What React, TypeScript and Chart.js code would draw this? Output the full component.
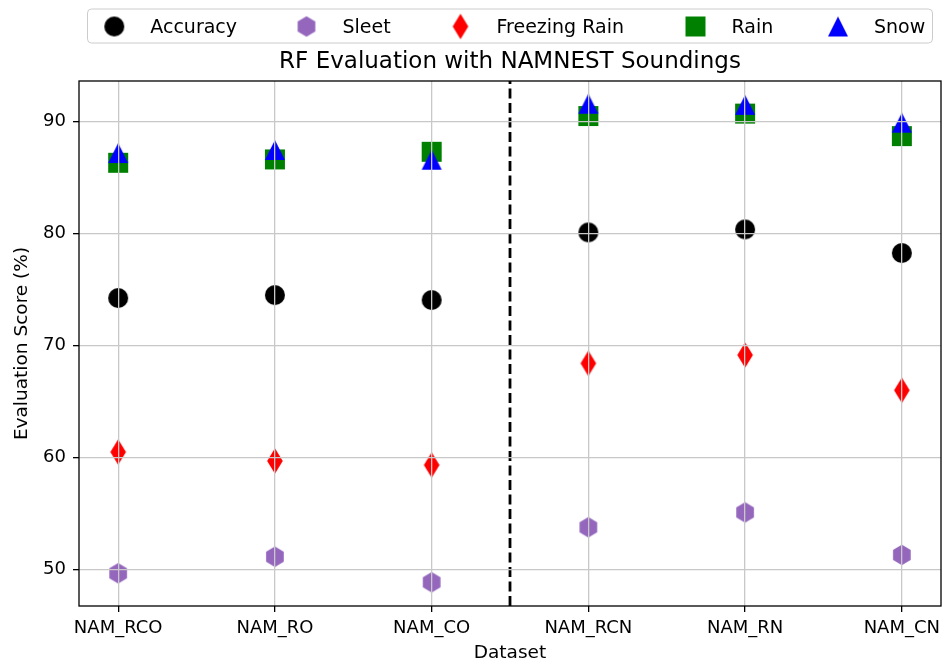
import React, { useEffect, useRef } from "react";
import { Chart, registerables } from "chart.js";

Chart.register(...registerables);

// ---------- data ----------
const categories = ["NAM_RCO", "NAM_RO", "NAM_CO", "NAM_RCN", "NAM_RN", "NAM_CN"];
const seriesNames = ["Accuracy", "Sleet", "Freezing Rain", "Rain", "Snow"];
const accuracy = [74.24, 74.5, 74.06, 80.1, 80.37, 78.26];
const sleet = [49.66, 51.14, 48.86, 53.77, 55.1, 51.3];
const freezingRain = [60.49, 59.69, 59.33, 68.41, 69.15, 66.0];
const rain = [86.32, 86.62, 87.3, 90.49, 90.71, 88.7];
const snow = [87.19, 87.46, 86.59, 91.59, 91.49, 89.9];
const yTicks = [50, 60, 70, 80, 90];
const Y_MIN = 46.74;
const Y_MAX = 93.62;
const X_MIN = -0.25;
const X_MAX = 5.25;
const DIVIDER_X = 2.5;
const TITLE = "RF Evaluation with NAMNEST Soundings";
const X_TITLE = "Dataset";
const Y_TITLE = "Evaluation Score (%)";

const FONT = "DejaVu Sans";
// legend marker centres (layout)
const LEGEND_MARKER_X = [114.3, 306.5, 460.5, 695.5, 838];

type Shape = "circle" | "hexagon" | "diamond" | "square" | "triangle";

function makeMarker(shape: Shape, color: string): HTMLCanvasElement {
  const c = document.createElement("canvas");
  c.width = 26;
  c.height = 30;
  const ctx = c.getContext("2d")!;
  const cx = c.width / 2;
  const cy = c.height / 2;
  ctx.fillStyle = color;
  ctx.beginPath();
  if (shape === "circle") {
    ctx.arc(cx, cy, 10, 0, Math.PI * 2);
  } else if (shape === "square") {
    ctx.rect(cx - 10, cy - 10, 20, 20);
  } else if (shape === "triangle") {
    ctx.moveTo(cx, cy - 10);
    ctx.lineTo(cx + 10, cy + 10);
    ctx.lineTo(cx - 10, cy + 10);
    ctx.closePath();
  } else if (shape === "diamond") {
    const hh = 12.8;
    const hw = 7.8;
    ctx.moveTo(cx, cy - hh);
    ctx.lineTo(cx + hw, cy);
    ctx.lineTo(cx, cy + hh);
    ctx.lineTo(cx - hw, cy);
    ctx.closePath();
  } else if (shape === "hexagon") {
    const r = 10.2;
    for (let k = 0; k < 6; k++) {
      const a = -Math.PI / 2 + (k * Math.PI) / 3;
      const px = cx + r * Math.cos(a);
      const py = cy + r * Math.sin(a);
      if (k === 0) ctx.moveTo(px, py);
      else ctx.lineTo(px, py);
    }
    ctx.closePath();
  }
  ctx.fill();
  return c;
}

export default function App() {
  const canvasRef = useRef<HTMLCanvasElement | null>(null);

  useEffect(() => {
    const canvas = canvasRef.current;
    if (!canvas) return;

    const markers = [
      makeMarker("circle", "#000000"),
      makeMarker("hexagon", "#9467bd"),
      makeMarker("diamond", "#ff0000"),
      makeMarker("square", "#008000"),
      makeMarker("triangle", "#0000ff"),
    ];
    const seriesValues = [accuracy, sleet, freezingRain, rain, snow];

    const toPoints = (vals: number[]) => vals.map((v, i) => ({ x: i, y: v }));

    const decorPlugin = {
      id: "decor",
      afterDraw(chart: any) {
        const { ctx, chartArea } = chart;
        const { left, right, top, bottom } = chartArea;
        ctx.save();
        // spines
        ctx.strokeStyle = "#000";
        ctx.lineWidth = 1.3;
        ctx.strokeRect(left, top, right - left, bottom - top);

        // title
        ctx.fillStyle = "#000";
        ctx.font = `23px "${FONT}"`;
        ctx.textAlign = "center";
        ctx.textBaseline = "alphabetic";
        ctx.fillText(TITLE, (left + right) / 2, 68.3);

        // legend box
        const fs = 19;
        const boxL = left + 8.5;
        const boxR = right - 8.5;
        const boxT = 9;
        const boxB = 43;
        const rr = 4;
        ctx.beginPath();
        ctx.moveTo(boxL + rr, boxT);
        ctx.lineTo(boxR - rr, boxT);
        ctx.arcTo(boxR, boxT, boxR, boxT + rr, rr);
        ctx.lineTo(boxR, boxB - rr);
        ctx.arcTo(boxR, boxB, boxR - rr, boxB, rr);
        ctx.lineTo(boxL + rr, boxB);
        ctx.arcTo(boxL, boxB, boxL, boxB - rr, rr);
        ctx.lineTo(boxL, boxT + rr);
        ctx.arcTo(boxL, boxT, boxL + rr, boxT, rr);
        ctx.closePath();
        ctx.fillStyle = "rgba(255,255,255,0.8)";
        ctx.fill();
        ctx.strokeStyle = "#cccccc";
        ctx.lineWidth = 1;
        ctx.stroke();

        ctx.font = `${fs}px "${FONT}"`;
        ctx.textAlign = "left";
        const markerY = 26.5;
        const textY = 32.8;
        seriesNames.forEach((name, i) => {
          const m = markers[i];
          const mx = LEGEND_MARKER_X[i];
          ctx.drawImage(m, mx - m.width / 2, markerY - m.height / 2);
          ctx.fillStyle = "#000";
          ctx.fillText(name, mx + 36, textY);
        });
        ctx.restore();
      },
    };

    const orders = [5, 4, 3, 2, 1];
    const datasets: any[] = seriesNames.map((name, i) => ({
      label: name,
      data: toPoints(seriesValues[i]),
      pointStyle: markers[i],
      pointRadius: 10,
      pointHoverRadius: 10,
      backgroundColor: "#000",
      borderColor: "#000",
      showLine: false,
      order: orders[i],
    }));
    datasets.push({
      type: "line",
      label: "divider",
      data: [
        { x: DIVIDER_X, y: Y_MIN },
        { x: DIVIDER_X, y: Y_MAX },
      ],
      borderColor: "#000",
      borderWidth: 2.8,
      borderDash: [10, 4.5],
      pointRadius: 0,
      showLine: true,
      fill: false,
      order: 10,
    });

    const chart = new Chart(canvas, {
      type: "scatter",
      data: { datasets },
      options: {
        responsive: false,
        animation: false,
        events: [],
        layout: { autoPadding: false, padding: { top: 81, left: 0, right: 2, bottom: 0 } },
        plugins: {
          legend: { display: false },
          title: { display: false },
          tooltip: { enabled: false },
        },
        scales: {
          x: {
            type: "linear",
            min: X_MIN,
            max: X_MAX,
            afterBuildTicks: (s: any) => {
              s.ticks = categories.map((_, i) => ({ value: i }));
            },
            afterFit: (s: any) => {
              s.height = 58;
              s.paddingLeft = 0;
              s.paddingRight = 0;
            },
            ticks: {
              callback: (v: any) => categories[Number(v)] ?? "",
              font: { family: FONT, size: 18 },
              color: "#000",
              padding: 6,
              maxRotation: 0,
              autoSkip: false,
            },
            grid: {
              color: "#c8c8c8",
              lineWidth: 1.3,
              z: 1,
              tickColor: "#000",
              tickLength: 6,
              tickWidth: 1.3,
            },
            border: { display: false },
            title: {
              display: true,
              text: X_TITLE,
              color: "#000",
              font: { family: FONT, size: 18.5 },
              padding: { top: 0, bottom: 0 },
            },
          },
          y: {
            type: "linear",
            min: Y_MIN,
            max: Y_MAX,
            afterBuildTicks: (s: any) => {
              s.ticks = yTicks.map((v) => ({ value: v }));
            },
            afterFit: (s: any) => {
              s.width = 79;
              s.paddingTop = 0;
              s.paddingBottom = 0;
            },
            ticks: {
              callback: (v: any) => String(v),
              font: { family: FONT, size: 18 },
              color: "#000",
              padding: 7,
            },
            grid: {
              color: "#c8c8c8",
              lineWidth: 1.3,
              z: 1,
              tickColor: "#000",
              tickLength: 6,
              tickWidth: 1.3,
            },
            border: { display: false },
            title: {
              display: true,
              text: Y_TITLE,
              color: "#000",
              font: { family: FONT, size: 18.5 },
              padding: { top: 11, bottom: 0 },
            },
          },
        },
      },
      plugins: [decorPlugin],
    } as any);

    return () => {
      chart.destroy();
    };
  }, []);

  return (
    <div style={{ position: "absolute", left: 0, top: 0, width: 943, height: 664, background: "#fff" }}>
      <canvas ref={canvasRef} width={943} height={664} style={{ width: 943, height: 664, display: "block" }} />
    </div>
  );
}
